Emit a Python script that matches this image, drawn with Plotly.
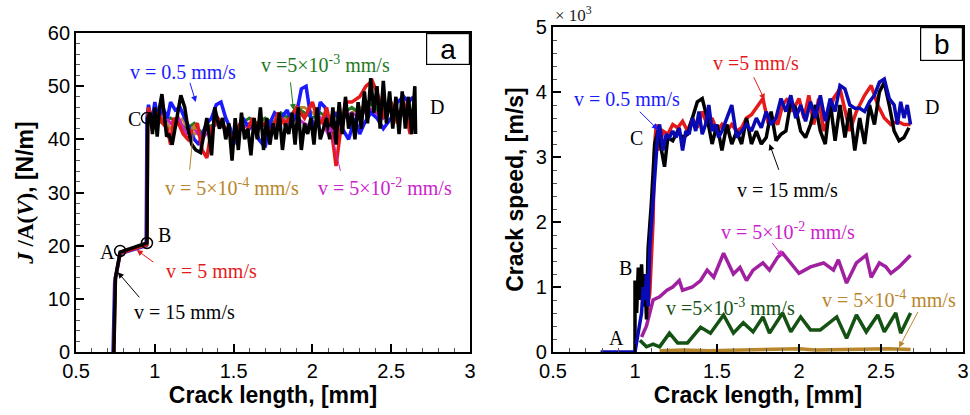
import plotly.graph_objects as go

# ---------------- Panel (a): J/A(V) vs crack length ----------------
a_black_x = [0.74, 0.745, 0.75, 0.78, 0.86, 0.95, 0.955, 0.97, 0.985, 1.0, 1.015, 1.03, 1.045, 1.06, 1.075, 1.09,
             1.11, 1.14, 1.165, 1.19, 1.21, 1.235, 1.26, 1.29, 1.31, 1.33, 1.36, 1.38, 1.41, 1.43, 1.45, 1.47,
             1.49, 1.51, 1.53, 1.55, 1.57, 1.59, 1.61, 1.63, 1.65, 1.67, 1.69, 1.71, 1.73, 1.75, 1.77, 1.79,
             1.81, 1.83, 1.85, 1.87, 1.89, 1.91, 1.93, 1.95, 1.97, 1.99, 2.01, 2.03, 2.05, 2.07, 2.09, 2.11,
             2.13, 2.15, 2.17, 2.19, 2.21, 2.23, 2.25, 2.27, 2.29, 2.31, 2.33, 2.35, 2.37, 2.39, 2.41, 2.43,
             2.45, 2.47, 2.49, 2.51, 2.53, 2.55, 2.57, 2.59, 2.61, 2.63, 2.65, 2.655]
a_black_y = [0, 8, 14, 18.8, 19.6, 20.5, 44, 45, 41, 46, 40.5, 46, 48.5, 45, 40.5, 41,
             39, 44, 48.3, 46, 42, 39, 38, 37.5, 41, 44, 37, 46, 42, 44, 40, 43,
             36, 44, 38, 45, 40, 42, 37, 44, 40, 46, 38, 44, 39, 43, 40, 45,
             38, 43, 41, 45, 39, 46, 38, 43, 41, 44, 39, 46, 40, 42, 44, 40,
             46, 39, 47, 41, 48, 42, 45, 40, 47, 42, 49, 43, 51.5, 45, 50, 42,
             51, 43, 49, 42, 48, 41, 49, 42, 48, 41, 50, 41]

a_blue_x = [0.735, 0.74, 0.745, 0.78, 0.86, 0.945, 0.95, 0.96, 0.98, 1.0, 1.02, 1.05, 1.08, 1.1, 1.13, 1.16,
            1.19, 1.22, 1.25, 1.28, 1.3, 1.33, 1.36, 1.39, 1.42, 1.45, 1.48, 1.5, 1.53, 1.56, 1.6, 1.63,
            1.66, 1.7, 1.73, 1.76, 1.8, 1.84, 1.87, 1.9, 1.93, 1.96, 1.99, 2.02, 2.05, 2.08, 2.11, 2.15,
            2.19, 2.23, 2.27, 2.3, 2.33, 2.37, 2.41, 2.45, 2.5, 2.54, 2.58, 2.61, 2.64]
a_blue_y = [0, 6, 13, 18.5, 19.2, 20, 44, 46.5, 43, 47, 44, 46, 44, 47, 45.5, 46,
            44, 42, 40, 39, 41, 43, 44, 46.5, 47, 44, 42, 39, 42, 44, 42, 43,
            40, 38.5, 43, 45, 44, 45.5, 43, 45, 49.5, 50, 44, 42, 47, 46, 43, 45,
            42, 40, 44, 41, 43, 45, 44, 42, 44, 47, 48, 47, 48]

a_red_x = [0.74, 0.75, 0.78, 0.86, 0.95, 0.955, 0.96, 0.99, 1.02, 1.05, 1.08, 1.1, 1.12, 1.15, 1.18, 1.21,
           1.24, 1.27, 1.3, 1.33, 1.36, 1.4, 1.45, 1.5, 1.54, 1.58, 1.62, 1.66, 1.7, 1.74, 1.78, 1.82,
           1.86, 1.9, 1.95, 2.0, 2.03, 2.06, 2.09, 2.12, 2.15, 2.18, 2.21, 2.25, 2.3, 2.34, 2.38, 2.42,
           2.46, 2.5, 2.54, 2.58, 2.62, 2.65]
a_red_y = [0, 14, 18.6, 19.3, 20.2, 44, 46, 42, 45, 43, 42, 39, 44, 43, 41, 40,
           42, 43, 38, 36.5, 42, 44, 42, 40, 43, 41, 44, 42, 43, 41, 45, 43,
           44, 46, 44, 47, 44, 43, 46, 42, 35, 42, 47, 47, 48, 50, 51, 48,
           44, 47, 43, 47, 41, 45]

a_green_x = [0.96, 1.0, 1.05, 1.1, 1.15, 1.2, 1.25, 1.3, 1.35, 1.4, 1.45, 1.5, 1.55, 1.6, 1.65, 1.7,
             1.75, 1.8, 1.85, 1.9, 1.95, 2.0, 2.05, 2.1, 2.15, 2.2, 2.25, 2.3, 2.35, 2.4, 2.45, 2.5,
             2.55, 2.6, 2.65]
a_green_y = [45, 44, 43, 44, 43, 42, 43, 41, 42.5, 43, 42, 41, 43, 44, 43, 44,
             43, 45, 44, 46, 45, 44, 45, 44, 43, 45, 46, 45, 47, 46, 44, 46,
             45, 46, 45]

a_brown_x = [0.96, 1.0, 1.05, 1.1, 1.15, 1.18, 1.2, 1.25, 1.3, 1.35, 1.4, 1.45, 1.5, 1.55, 1.6, 1.65,
             1.7, 1.75, 1.8, 1.85, 1.9, 1.95, 2.0, 2.05, 2.1, 2.15, 2.2, 2.25, 2.3, 2.35, 2.4, 2.45,
             2.5, 2.55, 2.6, 2.65]
a_brown_y = [44, 43.5, 44, 42, 43, 44, 42, 41, 41.5, 42, 43, 42, 41, 42, 43, 42,
             43.5, 43, 44, 44, 46, 46, 45, 44, 44, 45, 44, 45, 46, 46, 45, 46,
             45, 45, 46, 45]

a_mag_x = [0.96, 1.0, 1.05, 1.1, 1.15, 1.2, 1.25, 1.3, 1.35, 1.4, 1.45, 1.5, 1.55, 1.6, 1.65, 1.7,
           1.75, 1.8, 1.85, 1.9, 1.95, 2.0, 2.05, 2.1, 2.15, 2.2, 2.25, 2.3, 2.35, 2.4, 2.45, 2.5,
           2.55, 2.6, 2.65]
a_mag_y = [44, 43, 45, 43, 44, 41, 42, 40, 42, 43, 42, 40, 42, 43, 42, 43,
           42, 44, 43, 44, 43, 42, 44, 41, 43, 44, 45, 44, 46, 45, 44, 46,
           45, 44, 45]

a_pts_x = [0.78, 0.95, 0.95]
a_pts_y = [19, 20.5, 44]

# ---------------- Panel (b): crack speed (x10^3 m/s) ----------------
b_blue_x = [0.79, 1.0, 1.02, 1.04, 1.05, 1.06, 1.07, 1.08, 1.09, 1.1, 1.12, 1.14, 1.15, 1.17, 1.19, 1.21,
            1.23, 1.25, 1.27, 1.29, 1.31, 1.33, 1.35, 1.37, 1.39, 1.41, 1.43, 1.45, 1.47, 1.49, 1.51, 1.53,
            1.56, 1.59, 1.62, 1.65, 1.68, 1.71, 1.74, 1.77, 1.8, 1.83, 1.86, 1.89, 1.92, 1.95, 1.98, 2.01,
            2.04, 2.07, 2.1, 2.13, 2.16, 2.19, 2.22, 2.25, 2.28, 2.31, 2.34, 2.37, 2.4, 2.43, 2.46, 2.49,
            2.52, 2.55, 2.58, 2.6, 2.62, 2.64, 2.66, 2.68]
b_blue_y = [0, 0, 0.3, 0.6, 1.0, 0.8, 1.2, 0.7, 1.6, 2.0, 2.8, 3.4, 3.5, 3.1, 3.35, 3.3,
            3.4, 3.3, 3.45, 3.1, 3.4, 3.35, 3.6, 3.4, 3.7, 3.35, 3.5, 3.8, 3.4, 3.5, 3.3, 3.4,
            3.6, 3.8, 3.3, 3.4, 3.5, 3.4, 3.6, 3.45, 3.7, 3.5, 3.6, 3.9, 3.7, 3.95, 3.6, 3.8,
            3.55, 3.85, 3.6, 3.95, 3.55, 3.9, 3.7, 4.1, 4.05, 3.8, 3.75, 3.75, 3.7, 3.85, 3.95, 4.15,
            4.2, 3.9, 3.8, 3.5, 3.85, 3.6, 3.8, 3.5]

b_red_x = [1.07, 1.09, 1.11, 1.12, 1.13, 1.15, 1.17, 1.2, 1.23, 1.26, 1.29, 1.32, 1.35, 1.38, 1.41, 1.44,
           1.47, 1.5, 1.53, 1.56, 1.59, 1.62, 1.65, 1.68, 1.71, 1.75, 1.78, 1.81, 1.84, 1.87, 1.9, 1.93,
           1.96, 2.0, 2.03, 2.06, 2.09, 2.12, 2.15, 2.18, 2.21, 2.25, 2.28, 2.31, 2.35, 2.4, 2.44, 2.48,
           2.52, 2.56, 2.6, 2.64, 2.68]
b_red_y = [0.6, 0.9, 2.0, 3.2, 3.5, 3.1, 3.4, 3.35, 3.5, 3.45, 3.55, 3.4, 3.6, 3.45, 3.7, 3.5,
           3.6, 3.4, 3.5, 3.4, 3.5, 3.4, 3.45, 3.6, 3.65, 3.8, 3.9, 3.55, 3.6, 3.5, 3.8, 3.9,
           3.7, 3.9, 3.6, 3.95, 3.5, 3.9, 3.4, 3.6, 3.9, 4.05, 3.7, 3.4, 3.7, 3.95, 4.1, 3.8,
           3.6, 3.5, 3.55, 3.5, 3.5]

b_black_x = [1.0, 1.0, 1.01, 1.02, 1.03, 1.04, 1.05, 1.06, 1.07, 1.08, 1.1, 1.12, 1.14, 1.16, 1.18, 1.2,
             1.23, 1.26, 1.29, 1.32, 1.35, 1.38, 1.41, 1.44, 1.47, 1.5, 1.53, 1.56, 1.59, 1.62, 1.65, 1.68,
             1.71, 1.74, 1.77, 1.8, 1.83, 1.86, 1.89, 1.92, 1.95, 1.98, 2.01, 2.04, 2.07, 2.1, 2.13, 2.16,
             2.19, 2.22, 2.25, 2.28, 2.31, 2.34, 2.37, 2.4, 2.43, 2.46, 2.49, 2.52, 2.55, 2.58, 2.61, 2.64,
             2.67]
b_black_y = [0, 1.1, 0.6, 1.3, 0.8, 1.35, 0.7, 1.2, 0.5, 1.6, 2.3, 3.2, 3.4, 3.1, 2.85, 3.3,
             3.25, 3.4, 3.3, 3.35, 3.6, 3.85, 3.9, 3.6, 3.2, 3.5, 3.1, 3.5, 3.2, 3.4, 3.2, 3.6,
             3.2, 3.4, 3.2, 3.3, 3.7, 3.25, 3.35, 3.4, 3.85, 3.75, 3.4, 3.3, 3.5, 3.8, 3.4, 3.2,
             3.85, 3.25, 3.8, 3.3, 3.75, 3.1, 3.6, 3.2, 3.8, 3.5, 4.0, 4.15, 3.8, 3.4, 3.25, 3.3,
             3.45]

b_mag_x = [1.04, 1.07, 1.11, 1.15, 1.195, 1.23, 1.27, 1.29, 1.35, 1.4, 1.44, 1.48, 1.54, 1.6, 1.64, 1.68,
           1.72, 1.78, 1.82, 1.87, 1.9, 1.95, 2.0, 2.07, 2.15, 2.21, 2.24, 2.29, 2.35, 2.41, 2.44, 2.49,
           2.53, 2.56, 2.61, 2.68]
b_mag_y = [0.23, 0.4, 0.8, 0.85, 0.95, 1.0, 1.1, 0.95, 1.0, 1.1, 1.26, 1.15, 1.52, 1.2, 1.3, 1.1,
           1.26, 1.37, 1.26, 1.46, 1.52, 1.37, 1.21, 1.31, 1.37, 1.26, 1.42, 1.06, 1.37, 1.49, 1.15, 1.37,
           1.31, 1.21, 1.31, 1.49]

b_green_x = [1.03, 1.07, 1.11, 1.15, 1.21, 1.26, 1.32, 1.4, 1.46, 1.54, 1.6, 1.66, 1.72, 1.78, 1.82, 1.9,
             1.95, 2.01, 2.07, 2.13, 2.23, 2.29, 2.35, 2.41, 2.48, 2.52, 2.59, 2.62, 2.68]
b_green_y = [0.18, 0.08, 0.12, 0.08, 0.29, 0.14, 0.14, 0.38, 0.29, 0.57, 0.29, 0.45, 0.31, 0.54, 0.29, 0.6,
             0.31, 0.54, 0.34, 0.34, 0.54, 0.21, 0.57, 0.31, 0.57, 0.31, 0.6, 0.29, 0.6]

b_brown_x = [1.15, 1.3, 1.45, 1.6, 1.75, 1.9, 2.0, 2.1, 2.25, 2.4, 2.55, 2.68]
b_brown_y = [0.02, 0.03, 0.02, 0.03, 0.03, 0.04, 0.05, 0.03, 0.04, 0.04, 0.05, 0.04]

x_ticks = [0.5, 1, 1.5, 2, 2.5, 3]

BLUE = "#1a1aff"
BLUE_B = "#0a0ab4"
RED = "#e41a1a"
BLACK = "#000000"
GREEN = "#1f7a1f"
GREEN_B = "#145214"
BROWN = "#b8862b"
MAG = "#cc22cc"
MAG_B = "#a020a0"

fig = go.Figure()

def line(x, y, color, w, xa, ya):
    fig.add_trace(go.Scatter(x=x, y=y, mode="lines", line=dict(color=color, width=w),
                             xaxis=xa, yaxis=ya, showlegend=False, hoverinfo="skip"))

# panel a
line(a_brown_x, a_brown_y, BROWN, 3, "x", "y")
line(a_green_x, a_green_y, GREEN, 3, "x", "y")
line(a_mag_x, a_mag_y, MAG, 3, "x", "y")
line(a_blue_x, a_blue_y, BLUE, 3.5, "x", "y")
line(a_red_x, a_red_y, RED, 3.5, "x", "y")
line(a_black_x, a_black_y, BLACK, 3.5, "x", "y")
fig.add_trace(go.Scatter(x=a_pts_x, y=a_pts_y, mode="markers",
                         marker=dict(symbol="circle-open", size=11, color="black", line=dict(width=1.5)),
                         xaxis="x", yaxis="y", showlegend=False, hoverinfo="skip"))

# panel b
line(b_brown_x, b_brown_y, BROWN, 3.5, "x2", "y2")
line(b_green_x, b_green_y, GREEN_B, 3.5, "x2", "y2")
line(b_mag_x, b_mag_y, MAG_B, 3.5, "x2", "y2")
line(b_red_x, b_red_y, RED, 3.5, "x2", "y2")
line(b_black_x, b_black_y, BLACK, 3.5, "x2", "y2")
line(b_blue_x, b_blue_y, BLUE_B, 3.5, "x2", "y2")

SERIF = "Liberation Serif"
SANS = "Liberation Sans"

ann = []

def txt(x, y, s, color, xr, yr, size=20, xanchor="center", font=SERIF):
    ann.append(dict(x=x, y=y, xref=xr, yref=yr, text=s, showarrow=False, xanchor=xanchor,
                    yanchor="middle", font=dict(family=font, size=size, color=color)))

def arrow(x, y, ax, ay, color, xr, yr):
    ann.append(dict(x=x, y=y, ax=ax, ay=ay, xref=xr, yref=yr, axref=xr, ayref=yr, text="",
                    showarrow=True, arrowhead=2, arrowsize=1.2, arrowwidth=1, arrowcolor=color))

# panel a annotations
txt(1.18, 52.7, "v = 0.5 mm/s", BLUE, "x", "y")
arrow(1.26, 47.0, 1.22, 50.9, BLUE, "x", "y")
txt(2.08, 54.2, "v =5×10<sup>-3</sup> mm/s", GREEN, "x", "y")
arrow(1.88, 45.5, 1.86, 51.0, GREEN, "x", "y")
txt(1.49, 31.0, "v = 5×10<sup>-4</sup> mm/s", BROWN, "x", "y")
arrow(1.25, 43.0, 1.22, 34.0, BROWN, "x", "y")
txt(2.46, 31.0, "v = 5×10<sup>-2</sup> mm/s", MAG, "x", "y")
arrow(2.11, 42.5, 2.18, 33.8, MAG, "x", "y")
txt(1.36, 15.2, "v = 5 mm/s", RED, "x", "y")
arrow(0.885, 19.2, 1.0, 16.7, RED, "x", "y")
txt(1.19, 7.6, "v = 15 mm/s", BLACK, "x", "y")
arrow(0.765, 15.0, 0.91, 10.0, BLACK, "x", "y")
txt(0.70, 18.9, "A", BLACK, "x", "y")
txt(1.06, 22.0, "B", BLACK, "x", "y")
txt(0.87, 43.8, "C", BLACK, "x", "y")
txt(2.79, 46.0, "D", BLACK, "x", "y")

# panel b annotations
txt(1.74, 4.45, "v =5 mm/s", RED, "x2", "y2")
arrow(1.79, 3.88, 1.72, 4.25, RED, "x2", "y2")
txt(0.95, 3.9, "v = 0.5 mm/s", BLUE, "x2", "y2")
arrow(1.14, 3.42, 1.02, 3.72, BLUE, "x2", "y2")
txt(1.93, 2.5, "v = 15 mm/s", BLACK, "x2", "y2")
arrow(1.82, 3.2, 1.88, 2.78, BLACK, "x2", "y2")
txt(1.93, 1.86, "v = 5×10<sup>-2</sup> mm/s", MAG, "x2", "y2")
arrow(1.9, 1.47, 1.83, 1.7, MAG, "x2", "y2")
txt(1.58, 0.69, "v =5×10<sup>-3</sup> mm/s", GREEN_B, "x2", "y2")
txt(2.55, 0.82, "v = 5×10<sup>-4</sup> mm/s", BROWN, "x2", "y2")
arrow(2.61, 0.07, 2.73, 0.64, BROWN, "x2", "y2")
txt(0.89, 0.21, "A", BLACK, "x2", "y2")
txt(0.94, 1.3, "B", BLACK, "x2", "y2")
txt(1.01, 3.3, "C", BLACK, "x2", "y2")
txt(2.81, 3.77, "D", BLACK, "x2", "y2")

# panel labels in boxes
ann.append(dict(x=1, y=1, xref="x domain", yref="y domain", xanchor="right", yanchor="top",
                text="a", showarrow=False, font=dict(family=SANS, size=28, color="black"),
                bordercolor="black", borderwidth=1.2, borderpad=0, width=42, height=30, bgcolor="white"))
ann.append(dict(x=1, y=1, xref="x2 domain", yref="y2 domain", xanchor="right", yanchor="top",
                text="b", showarrow=False, font=dict(family=SANS, size=28, color="black"),
                bordercolor="black", borderwidth=1.2, borderpad=0, width=41, height=32, bgcolor="white"))
# x10^3 factor
ann.append(dict(x=0, y=1, xref="x2 domain", yref="y2 domain", xanchor="left", yanchor="bottom",
                text="× 10<sup>3</sup>", showarrow=False, yshift=0,
                font=dict(family=SERIF, size=17, color="#222")))

fig.update_layout(annotations=ann)

axis_common = dict(showline=True, linewidth=2, linecolor="black", mirror=True, ticks="inside",
                   ticklen=8, tickwidth=1.5, tickcolor="black", showgrid=False, zeroline=False,
                   automargin=False, tickfont=dict(family=SANS, size=20, color="black"))
xminor = dict(ticks="inside", ticklen=4, tickwidth=1, tickcolor="#555", dtick=0.1)

title_font = dict(family=SANS, size=23, color="black")

fig.update_layout(
    width=970, height=415, margin=dict(l=0, r=0, t=0, b=0),
    paper_bgcolor="white", plot_bgcolor="white",
    xaxis=dict(domain=[0.0784, 0.4845], range=[0.5, 3], tickvals=x_ticks, minor=xminor,
               anchor="y", title=dict(text="<b>Crack length, [mm]</b>", font=title_font, standoff=4),
               **axis_common),
    yaxis=dict(domain=[0.1518, 0.9205], range=[0, 60], dtick=10, anchor="x",
               minor=dict(ticks="inside", ticklen=4, tickwidth=1, tickcolor="#555", dtick=2),
               title=dict(text="<b><span style='font-family:Liberation Serif'><i>J</i> /A(<i>V</i>)</span>, [N/m]</b>",
                          font=title_font, standoff=8),
               **axis_common),
    xaxis2=dict(domain=[0.5701, 0.9928], range=[0.5, 3], tickvals=x_ticks, minor=xminor,
                anchor="y2", title=dict(text="<b>Crack speed, [m/s]</b>".replace("Crack speed, [m/s]", "Crack length, [mm]"),
                                        font=title_font, standoff=4),
                **axis_common),
    yaxis2=dict(domain=[0.1518, 0.9349], range=[0, 5], dtick=1, anchor="x2",
                minor=dict(ticks="inside", ticklen=4, tickwidth=1, tickcolor="#555", dtick=0.2),
                title=dict(text="<b>Crack speed, [m/s]</b>", font=title_font, standoff=6),
                **axis_common),
)

fig.write_html("out.html")
